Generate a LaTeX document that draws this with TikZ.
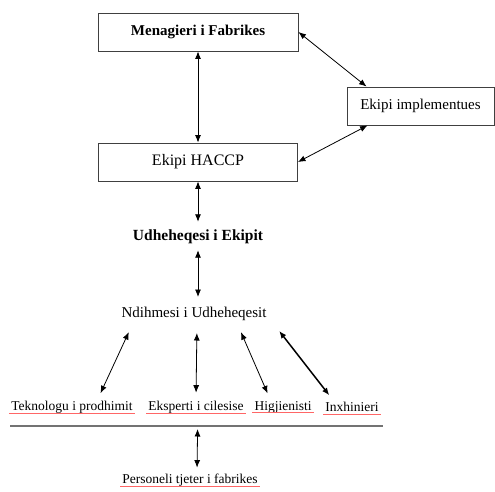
\documentclass[tikz,border=0pt]{standalone}
\usepackage{fontspec}
\setmainfont{Liberation Serif}
\usetikzlibrary{arrows,arrows.meta,positioning,shapes,calc}

\tikzset{
  orgbox/.style={draw=black!75,line width=0.9pt,minimum height=38pt,inner sep=2pt,font=\fontsize{15}{17}\selectfont},
  role/.style={inner sep=2pt,font=\fontsize{13.5}{15}\selectfont},
  typo/.style={red!60,line width=0.45pt},
  link/.style={<->,line width=0.8pt}
}

\begin{document}
\begin{tikzpicture}[x=1pt,y=-1pt,>={Latex[length=7.5pt,width=6pt]}]
    \useasboundingbox (0,0) rectangle (495,492);
    \node (mgr) [orgbox,minimum width=200pt,font=\fontsize{15}{17}\selectfont\bfseries] at (198,32) {Menagieri i Fabrikes};
    \node (impl) [orgbox,minimum width=147pt] at (420.5,106) {Ekipi implementues};
    \node (haccp) [orgbox,minimum width=199pt,font=\fontsize{16}{18}\selectfont] at (198,162) {Ekipi HACCP};
    \node (lead) [role,font=\fontsize{15.5}{17}\selectfont\bfseries] at (198,237) {Udheheqesi i Ekipit};
    \node (asst) [role,font=\fontsize{15}{17}\selectfont] at (194,314) {Ndihmesi i Udheheqesit};
    \node (tech) [role] at (72,407) {Teknologu i prodhimit};
    \node (exp) [role] at (196,407) {Eksperti i cilesise};
    \node (hyg) [role] at (283,407) {Higjienisti};
    \node (eng) [role] at (352,407) {Inxhinieri};
    \node (staff) [role] at (190,480) {Personeli tjeter i fabrikes};
    % underline of the team row
    \coordinate (barL) at (10,426);
    \coordinate (barR) at (383,426);
    \draw[black!55,line width=2.5pt] (barL)--(barR);
    % spelling marks
    \draw[typo] ([yshift=-2.5pt]tech.base west)--([yshift=-2.5pt]tech.base east);
    \draw[typo] ([yshift=-2.5pt]exp.base west)--([yshift=-2.5pt]exp.base east);
    \draw[typo] ([yshift=-2.5pt]hyg.base west)--([yshift=-2.5pt]hyg.base east);
    \draw[typo] ([yshift=-2.5pt]eng.base west)--([yshift=-2.5pt]eng.base east);
    \draw[typo] ([yshift=-2.5pt]staff.base west)--([yshift=-2.5pt]staff.base east);
    % links
    \draw[link] (mgr)--(haccp);
    \draw[link] (mgr.east)--([xshift=20pt]impl.north west);
    \draw[link] ([xshift=21pt]impl.south west)--(haccp.east);
    \draw[link,shorten >=6pt] (haccp)--(lead);
    \draw[link,shorten <=4pt,shorten >=8pt] (lead)--([xshift=4pt]asst.north);
    \draw[link,shorten <=10pt,shorten >=6pt] ([xshift=-61pt]asst.south)--([xshift=26pt]tech.north);
    \draw[link,shorten <=10pt,shorten >=6pt] ([xshift=3pt]asst.south)--(exp.north);
    \draw[link,shorten <=10pt,shorten >=6pt] ([xshift=43pt]asst.south)--([xshift=-13pt]hyg.north);
    \draw[link,line width=1.5pt,shorten <=10pt,shorten >=6pt] ([xshift=79pt]asst.south)--([xshift=-19pt]eng.north);
    \draw[link,shorten <=2pt,shorten >=4pt] ([yshift=-1pt]$(barL)!0.503!(barR)$)--([xshift=7pt]staff.north);
\end{tikzpicture}
\end{document}
